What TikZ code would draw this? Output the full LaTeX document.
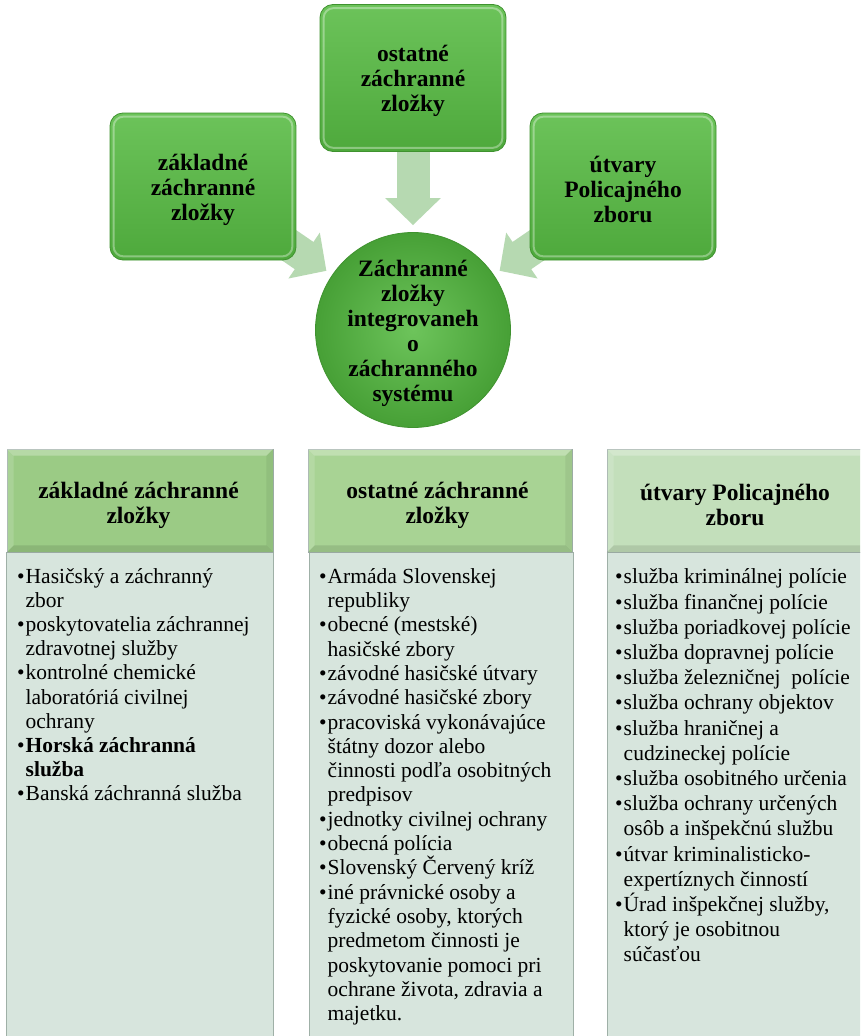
\documentclass[tikz,border=0pt]{standalone}
\usepackage{fontspec}
\setmainfont{Liberation Serif}
\usetikzlibrary{arrows.meta,calc}
\pgfdeclarelayer{bg}
\pgfdeclarelayer{under}
\pgfsetlayers{bg,under,main}

\definecolor{boxTop}{HTML}{6CC35A}
\definecolor{boxBot}{HTML}{4EA93C}
\definecolor{boxEdge}{HTML}{3F922F}
\definecolor{hubIn}{HTML}{6DC45B}
\definecolor{hubOut}{HTML}{47A036}
\definecolor{arrowFill}{HTML}{B6D9B1}
\definecolor{hdrA}{HTML}{9BCB85}
\definecolor{hdrB}{HTML}{A8D394}
\definecolor{hdrC}{HTML}{C3DFBB}
\definecolor{bodyFill}{HTML}{D7E5DD}
\definecolor{bodyEdge}{HTML}{9FB0A7}

% bullet and continuation indent for the lists
\newcommand\bul{\makebox[8.5pt][l]{\textbullet}}
\newcommand\cnt{\hspace*{8.5pt}}

% bevelled edge of a header block
\newcommand\bevelhdr[1]{%
  \fill[white,opacity=.28] (#1.north west) -- (#1.north east) -- ($(#1.north east)+(-7,7)$) -- ($(#1.north west)+(7,7)$) -- cycle;
  \fill[white,opacity=.15] (#1.north west) -- ($(#1.north west)+(7,7)$) -- ($(#1.south west)+(7,-7)$) -- (#1.south west) -- cycle;
  \fill[black,opacity=.10] (#1.south west) -- (#1.south east) -- ($(#1.south east)+(-7,-7)$) -- ($(#1.south west)+(7,-7)$) -- cycle;
  \fill[black,opacity=.06] (#1.north east) -- (#1.south east) -- ($(#1.south east)+(-7,-7)$) -- ($(#1.north east)+(-7,7)$) -- cycle;
}

\tikzset{
  greenbox/.style={rectangle, rounded corners=13pt, top color=boxTop, bottom color=boxBot,
    draw=boxEdge, line width=0.8pt, inner sep=0pt,
    minimum width=186pt, minimum height=147pt},
  hub/.style={circle, inner color=hubIn, outer color=hubOut, draw=boxEdge, line width=0.8pt,
    minimum size=195pt, inner sep=0pt},
  shapetext/.style={align=center, inner sep=0pt,
    font=\fontsize{23.5}{25}\selectfont\bfseries},
  gloss/.style={draw=white, draw opacity=.35, line width=2pt, rounded corners=10pt},
  fatarrow/.style={draw=arrowFill, line width=33pt, -{Triangle[width=54pt,length=27pt]}},
  header/.style={rectangle, inner sep=0pt, minimum height=103pt, draw=bodyEdge, line width=0.6pt},
  hdrtext/.style={align=center, inner sep=0pt, font=\fontsize{23.5}{25}\selectfont\bfseries},
  body/.style={rectangle, inner sep=0pt, fill=bodyFill, draw=bodyEdge, line width=0.8pt,
    minimum height=495pt, anchor=north},
  listtext/.style={anchor=north west, inner sep=0pt, align=left},
}

\begin{document}
\begin{tikzpicture}[x=1pt,y=-1pt]
\useasboundingbox (0,0) rectangle (860,1036);
\begin{pgfonlayer}{bg}
  \fill[white] (0,0) rectangle (860,1036);
\end{pgfonlayer}
\clip (0,0) rectangle (860,1036);

% ---- upper scheme: three groups feeding the central circle ----
\node[greenbox] (tbox) at (413,78) {};
\node[greenbox] (lbox) at (203,186.5) {};
\node[greenbox] (rbox) at (623,186.5) {};
\node[hub] (circ) at (413,330) {};

\foreach \b in {tbox,lbox,rbox}
  \draw[gloss] ($(\b.north west)+(4,4)$) rectangle ($(\b.south east)+(-4,-4)$);

\node[shapetext] (tboxT) at ($(tbox)+(0,3)$) {ostatné\\záchranné\\zložky};
\node[shapetext] (lboxT) at ($(lbox)+(0,3)$) {základné\\záchranné\\zložky};
\node[shapetext] (rboxT) at ($(rbox)+(0,3)$) {útvary\\Policajného\\zboru};
\node[shapetext] (circT) at ($(circ)+(0,3)$) {Záchranné\\zložky\\integrovaneh\\o\\záchranného\\systému};

\begin{pgfonlayer}{under}
  \draw[fatarrow, shorten >=7pt, shorten <=-30pt] (tbox) -- (circ);
  \draw[fatarrow, shorten >=7pt, shorten <=-40pt] (lbox) -- (circ);
  \draw[fatarrow, shorten >=7pt, shorten <=-40pt] (rbox) -- (circ);
\end{pgfonlayer}

% ---- lower table: three columns ----
\node[body, minimum width=267pt] (bA) at (140,552) {};
\node[body, minimum width=264pt] (bB) at (441,552) {};
\node[body, minimum width=264pt] (bC) at (739,552) {};

\node[header, fill=hdrA, minimum width=266pt] (hA) at (140,500.5) {};
\node[header, fill=hdrB, minimum width=264pt] (hB) at (440,500.5) {};
\node[header, fill=hdrC, minimum width=264pt] (hC) at (739,500.5) {};
\bevelhdr{hA}
\bevelhdr{hB}
\bevelhdr{hC}

\node[hdrtext] (tA) at (138.5,505) {základné záchranné\\zložky};
\node[hdrtext] (tB) at (437.5,505) {ostatné záchranné\\zložky};
\node[hdrtext] (tC) at (735,505) {útvary Policajného\\zboru};

\node[listtext, font=\fontsize{21.5}{24.2}\selectfont] (lA) at (17,566) {%
\strut\bul Hasičský a záchranný\\
\cnt zbor\\
\bul poskytovatelia záchrannej\\
\cnt zdravotnej služby\\
\bul kontrolné chemické\\
\cnt laboratóriá civilnej\\
\cnt ochrany\\
\bul\textbf{Horská záchranná}\\
\cnt\textbf{služba}\\
\bul Banská záchranná služba};

\node[listtext, font=\fontsize{21.5}{24.3}\selectfont] (lB) at (319,566) {%
\strut\bul Armáda Slovenskej\\
\cnt republiky\\
\bul obecné (mestské)\\
\cnt hasičské zbory\\
\bul závodné hasičské útvary\\
\bul závodné hasičské zbory\\
\bul pracoviská vykonávajúce\\
\cnt štátny dozor alebo\\
\cnt činnosti podľa osobitných\\
\cnt predpisov\\
\bul jednotky civilnej ochrany\\
\bul obecná polícia\\
\bul Slovenský Červený kríž\\
\bul iné právnické osoby a\\
\cnt fyzické osoby, ktorých\\
\cnt predmetom činnosti je\\
\cnt poskytovanie pomoci pri\\
\cnt ochrane života, zdravia a\\
\cnt majetku.};

\node[listtext, font=\fontsize{21.5}{25.2}\selectfont] (lC) at (615,566) {%
\strut\bul služba kriminálnej polície\\
\bul služba finančnej polície\\
\bul služba poriadkovej polície\\
\bul služba dopravnej polície\\
\bul služba železničnej\ \ polície\\
\bul služba ochrany objektov\\
\bul služba hraničnej a\\
\cnt cudzineckej polície\\
\bul služba osobitného určenia\\
\bul služba ochrany určených\\
\cnt osôb a inšpekčnú službu\\
\bul útvar kriminalisticko-\\
\cnt expertíznych činností\\
\bul Úrad inšpekčnej služby,\\
\cnt ktorý je osobitnou\\
\cnt súčasťou};
\end{tikzpicture}
\end{document}
